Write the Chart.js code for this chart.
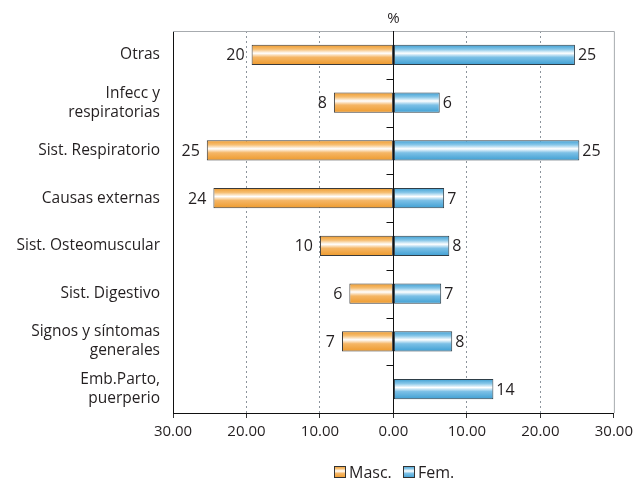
<!DOCTYPE html>
<html>
<head>
<meta charset="utf-8">
<script src="https://cdn.jsdelivr.net/npm/chart.js@4.4.0/dist/chart.umd.min.js"></script>
<style>
  html, body { margin: 0; padding: 0; background: #fff; }
  #wrap { width: 638px; height: 481px; }
</style>
</head>
<body>
<div id="wrap"><canvas id="chart-causas"></canvas></div>
<script>
// causas por sexo (%)
let categorias = [
	'Otras',
	['Infecc y', 'respiratorias'],
	'Sist. Respiratorio',
	'Causas externas',
	'Sist. Osteomuscular',
	'Sist. Digestivo',
	['Signos y síntomas', 'generales'],
	['Emb.Parto,', 'puerperio'],
]
let masc = [-19.3, -8.1, -25.4, -24.5, -10.0, -6.0, -7.0, null]
let fem = [24.7, 6.3, 25.3, 6.9, 7.6, 6.5, 8.0, 13.6]
let mascTexto = ['20', '8', '25', '24', '10', '6', '7', '']
let femTexto = ['25', '6', '25', '7', '8', '7', '8', '14']
let series = ['Masc.', 'Fem.']

let fuente = "'Open Sans', 'Noto Sans', sans-serif"
let tinta = '#231F20'
let naranja = ['#EE9A2C', '#F6BE72', '#FFFFFF', '#F5B665', '#EE9A2C']
let azul = ['#3E9FD3', '#86C6E8', '#FFFFFF', '#7CC0E6', '#3E9FD3']
let grosor = 0.42

let degradado = (c, top, bottom, stops) => {
	let g = c.createLinearGradient(0, top, 0, bottom)
	g.addColorStop(0, stops[0])
	g.addColorStop(0.22, stops[1])
	g.addColorStop(0.42, stops[2])
	g.addColorStop(0.62, stops[3])
	g.addColorStop(1, stops[4])
	return g
}

let relleno = (stops) => (ctx) => {
	let chart = ctx.chart
	let y = chart.scales.y
	if (!y || ctx.dataIndex === undefined) return stops[0]
	let c = y.getPixelForValue(ctx.dataIndex)
	let h = Math.abs(y.getPixelForValue(1) - y.getPixelForValue(0)) * grosor / 2
	if (!isFinite(c) || !isFinite(h) || h <= 0) return stops[0]
	return degradado(chart.ctx, c - h, c + h, stops)
}

// marco, linea cero, etiquetas, leyenda
let extras = {
	id: 'extras',
	afterDatasetsDraw(chart) {
		let {ctx, chartArea: a, scales: {x, y}} = chart
		let x0 = Math.round(x.getPixelForValue(0)) + 0.5
		ctx.save()

		// marco gris superior y derecho
		ctx.strokeStyle = '#A7ABAF'
		ctx.lineWidth = 1
		ctx.beginPath()
		ctx.moveTo(a.left, a.top + 0.5)
		ctx.lineTo(a.right + 0.5, a.top + 0.5)
		ctx.lineTo(a.right + 0.5, a.bottom)
		ctx.stroke()

		// linea cero con marcas
		ctx.strokeStyle = '#111'
		ctx.beginPath()
		ctx.moveTo(x0, a.top)
		ctx.lineTo(x0, a.bottom)
		for (let i = 1; i < categorias.length; i++) {
			let yb = Math.round((y.getPixelForValue(i - 1) + y.getPixelForValue(i)) / 2) + 0.5
			ctx.moveTo(x0 - 7, yb)
			ctx.lineTo(x0, yb)
		}
		ctx.stroke()

		// valores
		ctx.fillStyle = tinta
		ctx.font = `16px ${fuente}`
		ctx.textBaseline = 'middle'
		chart.getDatasetMeta(0).data.forEach((bar, i) => {
			if (!mascTexto[i]) return
			ctx.textAlign = 'right'
			ctx.fillText(mascTexto[i], bar.x - 7, bar.y + 1)
		})
		chart.getDatasetMeta(1).data.forEach((bar, i) => {
			if (!femTexto[i]) return
			ctx.textAlign = 'left'
			ctx.fillText(femTexto[i], bar.x + 3, bar.y + 1)
		})

		// titulo %
		ctx.textAlign = 'center'
		ctx.font = `15px ${fuente}`
		ctx.fillText('%', x0, 19)

		// leyenda
		let ly = 472
		let box = 12
		let pos = [334, 403]
		let stops = [naranja, azul]
		ctx.font = `16px ${fuente}`
		ctx.textAlign = 'left'
		series.forEach((s, k) => {
			ctx.fillStyle = degradado(ctx, ly - box / 2, ly + box / 2, stops[k])
			ctx.fillRect(pos[k], ly - box / 2, box, box)
			ctx.strokeStyle = '#333'
			ctx.strokeRect(pos[k] + 0.5, ly - box / 2 + 0.5, box - 1, box - 1)
			ctx.fillStyle = tinta
			ctx.fillText(s, pos[k] + box + 3, ly + 1)
		})
		ctx.restore()
	}
}

let data = {
	labels: categorias,
	datasets: [
		{
			label: series[0],
			data: masc,
			backgroundColor: relleno(naranja),
			borderColor: '#3A3A3A',
			borderWidth: 1,
			borderSkipped: false,
		},
		{
			label: series[1],
			data: fem,
			backgroundColor: relleno(azul),
			borderColor: '#2E3E48',
			borderWidth: 1,
			borderSkipped: false,
		},
	]
}

let chart = new Chart(document.getElementById('chart-causas'), {
	type: 'bar',
	data,
	plugins: [extras],
	options: {
		indexAxis: 'y',
		responsive: true,
		maintainAspectRatio: false,
		animation: false,
		barPercentage: 1,
		categoryPercentage: grosor,
		layout: {padding: {top: 31, right: 22, left: 0, bottom: 0}},
		plugins: {
			legend: {display: false},
			tooltip: {enabled: false},
		},
		scales: {
			x: {
				stacked: true,
				min: -30,
				max: 30,
				ticks: {
					stepSize: 10,
					color: tinta,
					font: {family: fuente, size: 15},
					padding: 5,
					callback: v => Math.abs(v).toFixed(2),
				},
				grid: {
					color: c => (Math.abs(c.tick.value) === 10 || Math.abs(c.tick.value) === 20) ? '#8C949C' : 'rgba(0,0,0,0)',
					tickColor: '#333',
					tickLength: 5,
				},
				border: {color: '#111', width: 1, dash: [2, 3]},
				afterFit: s => { s.height = 68 },
			},
			y: {
				stacked: true,
				ticks: {
					color: tinta,
					font: {family: fuente, size: 15.5, lineHeight: 1.22},
					padding: 5,
				},
				grid: {display: false},
				border: {color: '#111', width: 1},
				afterFit: s => { s.width = 173 },
			},
		},
	},
})
</script>
</body>
</html>
